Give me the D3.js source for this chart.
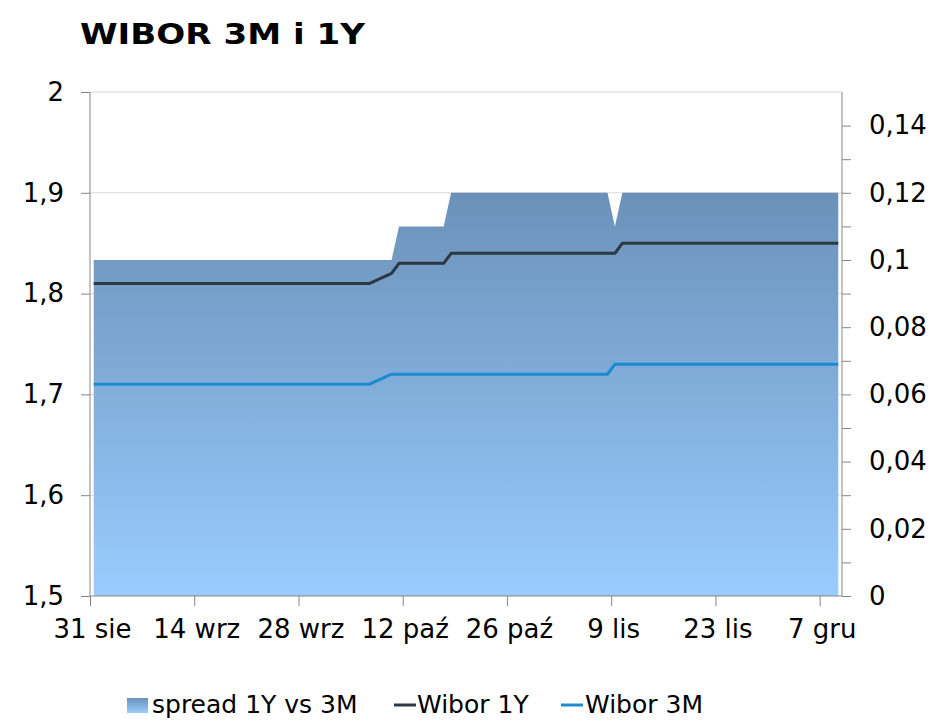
<!DOCTYPE html>
<html><head><meta charset="utf-8">
<script src="https://cdn.jsdelivr.net/npm/d3@7"></script>
<style>body{margin:0;background:#fff;}svg{display:block;font-family:"DejaVu Sans",Verdana,sans-serif;}</style>
</head><body>
<svg id="c" width="947" height="728"></svg>
<script>
// ---- data (business days, 2016) ----
const dates = [
"2016-08-31",
"2016-09-01","2016-09-02","2016-09-05","2016-09-06","2016-09-07","2016-09-08","2016-09-09",
"2016-09-12","2016-09-13","2016-09-14","2016-09-15","2016-09-16","2016-09-19","2016-09-20",
"2016-09-21","2016-09-22","2016-09-23","2016-09-26","2016-09-27","2016-09-28","2016-09-29","2016-09-30",
"2016-10-03","2016-10-04","2016-10-05","2016-10-06","2016-10-07",
"2016-10-10",
"2016-10-11","2016-10-12","2016-10-13","2016-10-14","2016-10-17",
"2016-10-18","2016-10-19","2016-10-20","2016-10-21","2016-10-24","2016-10-25","2016-10-26","2016-10-27",
"2016-10-28","2016-10-31","2016-11-02","2016-11-03","2016-11-04","2016-11-07","2016-11-08",
"2016-11-09",
"2016-11-10","2016-11-14","2016-11-15","2016-11-16","2016-11-17","2016-11-18","2016-11-21","2016-11-22",
"2016-11-23","2016-11-24","2016-11-25","2016-11-28","2016-11-29","2016-11-30","2016-12-01","2016-12-02",
"2016-12-05","2016-12-06","2016-12-07","2016-12-08","2016-12-09"
];
const wibor1Y = [
1.81,
1.81,1.81,1.81,1.81,1.81,1.81,1.81,
1.81,1.81,1.81,1.81,1.81,1.81,1.81,
1.81,1.81,1.81,1.81,1.81,1.81,1.81,1.81,
1.81,1.81,1.81,1.81,1.81,
1.82,
1.83,1.83,1.83,1.83,1.83,
1.84,1.84,1.84,1.84,1.84,1.84,1.84,1.84,
1.84,1.84,1.84,1.84,1.84,1.84,1.84,
1.84,
1.85,1.85,1.85,1.85,1.85,1.85,1.85,1.85,
1.85,1.85,1.85,1.85,1.85,1.85,1.85,1.85,
1.85,1.85,1.85,1.85,1.85
];
const wibor3M = [
1.71,
1.71,1.71,1.71,1.71,1.71,1.71,1.71,
1.71,1.71,1.71,1.71,1.71,1.71,1.71,
1.71,1.71,1.71,1.71,1.71,1.71,1.71,1.71,
1.71,1.71,1.71,1.71,1.71,
1.72,
1.72,1.72,1.72,1.72,1.72,
1.72,1.72,1.72,1.72,1.72,1.72,1.72,1.72,
1.72,1.72,1.72,1.72,1.72,1.72,1.72,
1.73,
1.73,1.73,1.73,1.73,1.73,1.73,1.73,1.73,
1.73,1.73,1.73,1.73,1.73,1.73,1.73,1.73,
1.73,1.73,1.73,1.73,1.73
];
const spread = [
0.10,
0.10,0.10,0.10,0.10,0.10,0.10,0.10,
0.10,0.10,0.10,0.10,0.10,0.10,0.10,
0.10,0.10,0.10,0.10,0.10,0.10,0.10,0.10,
0.10,0.10,0.10,0.10,0.10,
0.10,
0.11,0.11,0.11,0.11,0.11,
0.12,0.12,0.12,0.12,0.12,0.12,0.12,0.12,
0.12,0.12,0.12,0.12,0.12,0.12,0.12,
0.11,
0.12,0.12,0.12,0.12,0.12,0.12,0.12,0.12,
0.12,0.12,0.12,0.12,0.12,0.12,0.12,0.12,
0.12,0.12,0.12,0.12,0.12
];
const xTickDates = ["2016-08-31","2016-09-14","2016-09-28","2016-10-12","2016-10-26","2016-11-09","2016-11-23","2016-12-07"];
const xTickLabels = ["31 sie","14 wrz","28 wrz","12 paź","26 paź","9 lis","23 lis","7 gru"];
const xDomain = ["2016-08-31","2016-12-10"];
const leftTicks = [1.5,1.6,1.7,1.8,1.9,2];
const leftTickLabels = ["1,5","1,6","1,7","1,8","1,9","2"];
const rightTicks = [0,0.01,0.02,0.03,0.04,0.05,0.06,0.07,0.08,0.09,0.10,0.11,0.12,0.13,0.14];
const rightTickLabels = ["0","","0,02","","0,04","","0,06","","0,08","","0,1","","0,12","","0,14"];
const title = "WIBOR 3M i 1Y";
const seriesNames = ["spread 1Y vs 3M","Wibor 1Y","Wibor 3M"];

// ---- drawing ----
const svg = d3.select("#c");
const L = 90, R = 842, T = 92, B = 596;
const parse = d3.utcParse("%Y-%m-%d");
const x = d3.scaleUtc().domain(xDomain.map(parse)).range([L, R]);
const yL = d3.scaleLinear().domain([1.5, 2]).range([B, T]);
const yR = d3.scaleLinear().domain([0, 0.15]).range([B, T]);
const data = dates.map((d, i) => ({ t: d3.utcHour.offset(parse(d), 12), y1: wibor1Y[i], y3: wibor3M[i], s: spread[i] }));

const defs = svg.append("defs");
const g1 = defs.append("linearGradient").attr("id", "ag").attr("x1", 0).attr("y1", 0).attr("x2", 0).attr("y2", 1);
g1.append("stop").attr("offset", 0).attr("stop-color", "#6b91b8");
g1.append("stop").attr("offset", 1).attr("stop-color", "#99ccff");

svg.append("text").attr("x", 80).attr("y", 44).attr("font-size", 29).attr("font-weight", "bold")
  .attr("textLength", 285).attr("lengthAdjust", "spacingAndGlyphs")
  .attr("fill", "#000").text(title);

// gridlines
svg.append("g").selectAll("line").data(leftTicks.filter(v => v > 1.5)).join("line")
  .attr("x1", L).attr("x2", R).attr("y1", d => yL(d)).attr("y2", d => yL(d))
  .attr("stroke", "#d9d9d9").attr("stroke-width", 1);

// area
svg.append("path").datum(data)
  .attr("d", d3.area().x(d => x(d.t)).y0(B).y1(d => yR(d.s)))
  .attr("fill", "url(#ag)");

// lines
svg.append("path").datum(data)
  .attr("d", d3.line().x(d => x(d.t)).y(d => yL(d.y1)))
  .attr("fill", "none").attr("stroke", "#2c3843").attr("stroke-width", 3).attr("stroke-linejoin", "round");
svg.append("path").datum(data)
  .attr("d", d3.line().x(d => x(d.t)).y(d => yL(d.y3)))
  .attr("fill", "none").attr("stroke", "#1c8ad0").attr("stroke-width", 3).attr("stroke-linejoin", "round");

// axes
const axisColor = "#868686";
const gl = svg.append("g").attr("transform", `translate(${L},0)`)
  .call(d3.axisLeft(yL).tickValues(leftTicks).tickFormat((d, i) => leftTickLabels[i]).tickSize(9).tickPadding(17));
const gr = svg.append("g").attr("transform", `translate(${R},0)`)
  .call(d3.axisRight(yR).tickValues(rightTicks).tickFormat((d, i) => rightTickLabels[i]).tickSize(9).tickPadding(18));
const gb = svg.append("g").attr("transform", `translate(0,${B})`)
  .call(d3.axisBottom(x).tickValues(xTickDates.map(parse)).tickFormat((d, i) => xTickLabels[i]).tickSize(10).tickPadding(14));
[gl, gr, gb].forEach(g => {
  g.selectAll(".tick line").attr("stroke", axisColor);
  g.selectAll("text").attr("fill", "#000").attr("font-size", 26).attr("font-family", '"DejaVu Sans",Verdana,sans-serif');
});
gl.select(".domain").remove(); gr.select(".domain").remove(); gb.select(".domain").remove();
svg.append("line").attr("x1", L).attr("x2", L).attr("y1", T).attr("y2", B).attr("stroke", axisColor);
svg.append("line").attr("x1", R).attr("x2", R).attr("y1", T).attr("y2", B).attr("stroke", axisColor);
svg.append("line").attr("x1", L).attr("x2", R).attr("y1", B).attr("y2", B).attr("stroke", axisColor);
gb.selectAll("text").attr("dy", "0.71em").attr("dx", 2);

// legend
const lg = svg.append("g").attr("font-size", 25).attr("fill", "#000");
lg.append("rect").attr("x", 127).attr("y", 698).attr("width", 21).attr("height", 15).attr("fill", "url(#ag)");
lg.append("text").attr("x", 152).attr("y", 713).text(seriesNames[0]);
lg.append("line").attr("x1", 394).attr("x2", 416).attr("y1", 705).attr("y2", 705).attr("stroke", "#2c3843").attr("stroke-width", 3);
lg.append("text").attr("x", 417).attr("y", 713).text(seriesNames[1]);
lg.append("line").attr("x1", 561).attr("x2", 583).attr("y1", 705).attr("y2", 705).attr("stroke", "#1c8ad0").attr("stroke-width", 3);
lg.append("text").attr("x", 585).attr("y", 713).text(seriesNames[2]);
</script>
</body></html>
